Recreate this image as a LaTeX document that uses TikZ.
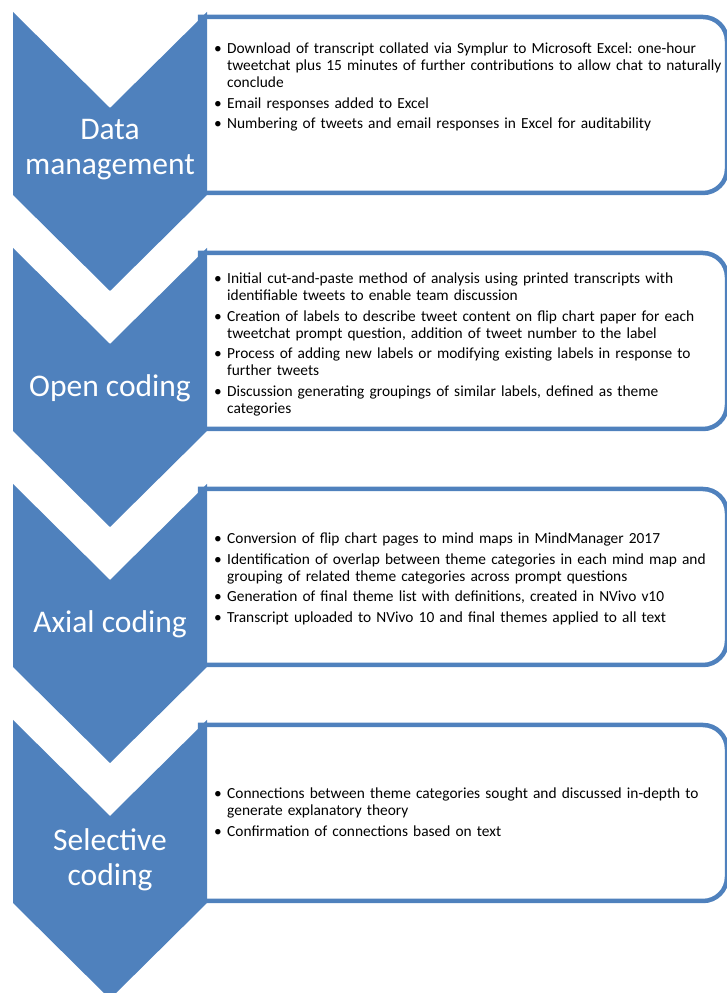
\documentclass[tikz,border=0pt]{standalone}
\usepackage{fontspec}
\setmainfont{Carlito}
\frenchspacing
\definecolor{chev}{HTML}{4F81BD}
\newcommand{\bfirst}[1]{\noindent\hangindent=13pt\hangafter=1\makebox[13pt][l]{\textbullet}#1\par}
\newcommand{\bnext}[1]{\vspace{3.5pt}\bfirst{#1}}
\begin{document}
\begin{tikzpicture}[x=1pt,y=1pt,
  chevsty/.style={fill=chev,draw=none},
  boxsty/.style={draw=chev,line width=4.5pt,fill=white},
  lbl/.style={text=white,align=center,inner sep=0pt,font=\fontsize{31.5}{35}\selectfont},
  txt/.style={anchor=base west,inner sep=0pt,text width=560pt,align=left,font=\fontsize{15.4}{17}\selectfont}]
\useasboundingbox (0,0) rectangle (726,993);
\foreach \T in {12,248,484,720}{
  \pgfmathsetmacro{\Y}{993-\T}
  \draw[boxsty] (200,\Y-5) -- (703,\Y-5) arc[start angle=90,end angle=0,radius=24]
     -- (727,\Y-157) arc[start angle=0,end angle=-90,radius=24] -- (200,\Y-181) -- cycle;
  \fill[chevsty] (13,\Y) -- (110,\Y-96) -- (207,\Y) -- (207,\Y-183) -- (110,\Y-279) -- (13,\Y-183) -- cycle;
}
\node[lbl] (l1) at (110,843) {Data\\management};
\node[lbl] (l2) at (110,605) {Open coding};
\node[lbl] (l3) at (110,369) {Axial coding};
\node[lbl] (l4) at (110,133) {Selective\\coding};

\node[txt] (t1) at (214,939) {%
\bfirst{Download of transcript collated via Symplur to Microsoft Excel: one-hour\newline tweetchat plus 15 minutes of further contributions to allow chat to naturally\newline conclude}%
\bnext{Email responses added to Excel}%
\bnext{Numbering of tweets and email responses in Excel for auditability}};

\node[txt] (t2) at (214,709) {%
\bfirst{Initial cut-and-paste method of analysis using printed transcripts with\newline identifiable tweets to enable team discussion}%
\bnext{Creation of labels to describe tweet content on flip chart paper for each\newline tweetchat prompt question, addition of tweet number to the label}%
\bnext{Process of adding new labels or modifying existing labels in response to\newline further tweets}%
\bnext{Discussion generating groupings of similar labels, defined as theme\newline categories}};

\node[txt] (t3) at (214,449) {%
\bfirst{Conversion of flip chart pages to mind maps in MindManager 2017}%
\bnext{Identification of overlap between theme categories in each mind map and\newline grouping of related theme categories across prompt questions}%
\bnext{Generation of final theme list with definitions, created in NVivo v10}%
\bnext{Transcript uploaded to NVivo 10 and final themes applied to all text}};

\node[txt] (t4) at (214,194) {%
\bfirst{Connections between theme categories sought and discussed in-depth to\newline generate explanatory theory}%
\bnext{Confirmation of connections based on text}};
\end{tikzpicture}
\end{document}
